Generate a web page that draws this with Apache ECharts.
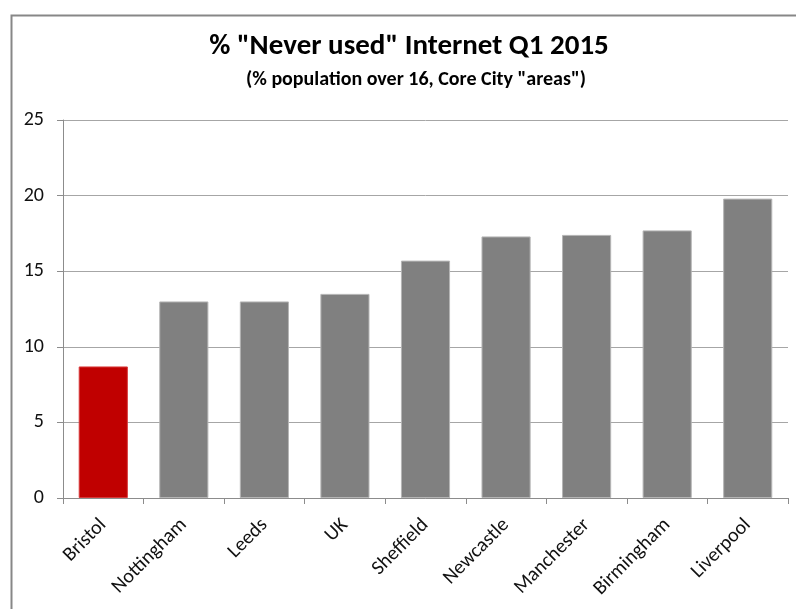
<!DOCTYPE html>
<html>
<head>
<meta charset="utf-8">
<style>
html,body{margin:0;padding:0;background:#fff;}
#c{width:796px;height:609px;}
</style>
<script src="https://cdn.jsdelivr.net/npm/echarts@6/dist/echarts.min.js"></script>
</head>
<body>
<div id="c"></div>
<script>
const categories = ['Bristol','Nottingham','Leeds','UK','Sheffield','Newcastle','Manchester','Birmingham','Liverpool'];
const values = [8.7, 13.0, 13.0, 13.5, 15.7, 17.3, 17.4, 17.7, 19.8];
const highlightIndex = 0;
const titleText = '% "Never used" Internet Q1 2015';
const subtitleText = '(% population over 16, Core City "areas")';

const FONT = 'Carlito, Lato, "Open Sans", sans-serif';
const chart = echarts.init(document.getElementById('c'), null, {renderer:'canvas'});
chart.setOption({
  animation:false,
  backgroundColor:'#fff',
  graphic:[{
    type:'rect', left:9, top:13,
    shape:{width:800, height:610},
    style:{fill:'none', stroke:'#878787', lineWidth:2}
  },{
    type:'text', x:409, y:47,
    style:{text:titleText, font:'bold 29px '+FONT, fill:'#000', textAlign:'center', textVerticalAlign:'middle'}
  },{
    type:'text', x:416, y:80,
    style:{text:subtitleText, font:'bold 20px '+FONT, fill:'#000', textAlign:'center', textVerticalAlign:'middle'}
  }],
  grid:{left:63, right:8, top:120, bottom:111},
  xAxis:{
    type:'category', data:categories,
    axisLine:{lineStyle:{color:'#8c8c8c', width:1}},
    axisTick:{show:true, length:6, alignWithLabel:false, lineStyle:{color:'#8c8c8c'}},
    axisLabel:{rotate:45, margin:24, fontSize:20, color:'#111', fontFamily:FONT, interval:0}
  },
  yAxis:{
    type:'value', min:0, max:25, interval:5,
    axisLine:{show:true, lineStyle:{color:'#8c8c8c'}},
    axisTick:{show:true, length:6, lineStyle:{color:'#8c8c8c'}},
    axisLabel:{margin:19, fontSize:20, color:'#111', fontFamily:FONT},
    splitLine:{lineStyle:{color:'#a6a6a6', width:1}}
  },
  series:[{
    type:'bar', barWidth:'61%',
    data:values.map((v,i)=>({
      value:v,
      itemStyle:{color: i===highlightIndex ? '#c00000' : '#808080',
                 borderColor: i===highlightIndex ? '#d9393a' : '#b5b5b5', borderWidth:1}
    }))
  }]
});
</script>
</body>
</html>
